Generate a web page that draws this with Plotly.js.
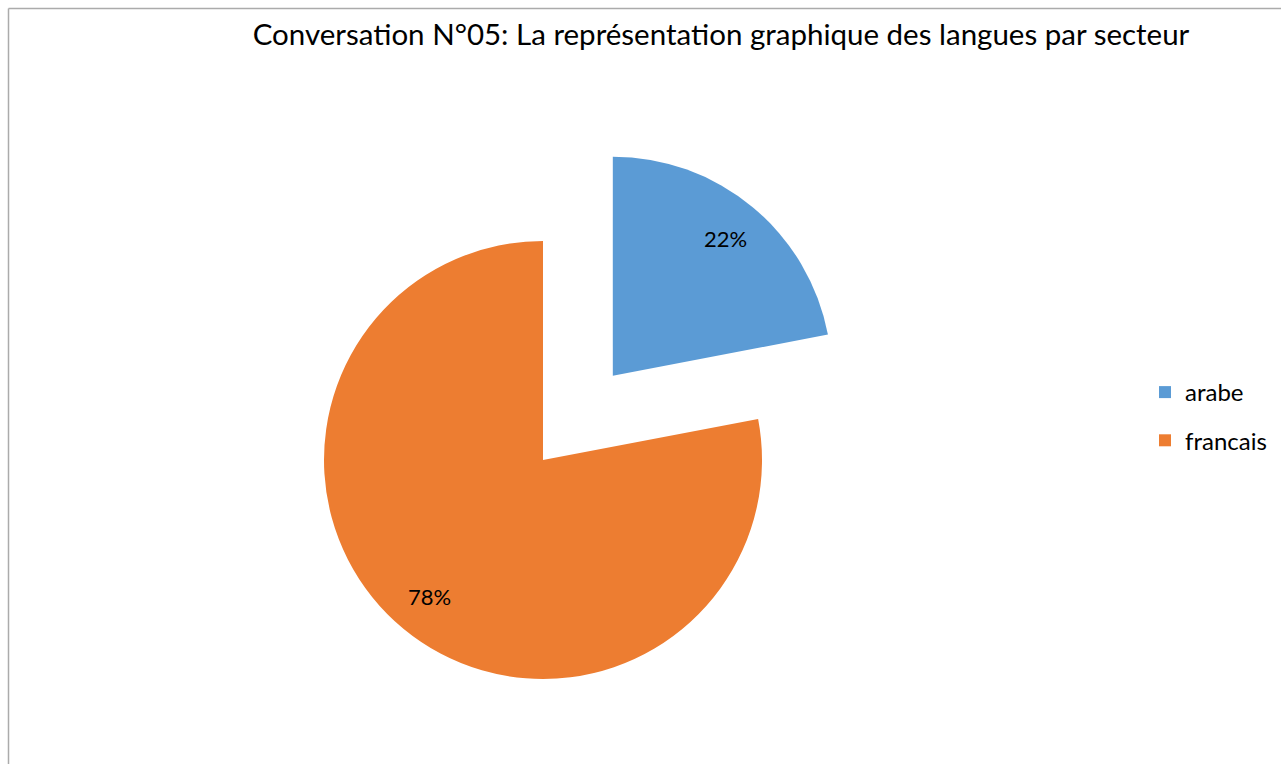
<!DOCTYPE html>
<html>
<head>
<meta charset="utf-8">
<script src="https://cdn.plot.ly/plotly-3.0.1.min.js"></script>
<style>
html,body{margin:0;padding:0;overflow:hidden;background:#fff;}
#chart{width:1281px;height:800px;}
</style>
</head>
<body>
<div id="chart"></div>
<script>
var labels = ['arabe', 'francais'];
var values = [22, 78];
var colors = ['#5B9BD5', '#ED7D31'];
var pulls = [0.5, 0];
var titleText = 'Conversation N°05: La représentation graphique des langues par secteur';

var W = 1281, H = 800;
var CX = 543, CY = 460, R = 219;
var FONT = 'Lato, "Open Sans", sans-serif';

var pie = {
  type: 'pie',
  labels: labels,
  values: values,
  sort: false,
  direction: 'clockwise',
  rotation: 0,
  pull: pulls,
  marker: {colors: colors, line: {width: 0}},
  textinfo: 'none',
  hoverinfo: 'label+percent',
  showlegend: false,
  domain: {x: [(CX - 1.5 * R) / W, (CX + 1.5 * R) / W], y: [(H - CY - 1.5 * R) / H, (H - CY + 1.5 * R) / H]}
};

// percent labels placed on each slice's bisector, computed from the values
var total = values.reduce(function (a, b) { return a + b; }, 0);
var cum = 0;
var annotations = values.map(function (v, i) {
  var mid = (cum + v / 2) / total * 2 * Math.PI;
  cum += v;
  var dx = Math.sin(mid), dy = -Math.cos(mid);
  var d = (pulls[i] + 0.81) * R;
  var px = CX + dx * d, py = CY + dy * d;
  return {
    xref: 'paper', yref: 'paper', x: px / W, y: 1 - py / H,
    xanchor: 'center', yanchor: 'middle', showarrow: false,
    text: Math.round(v / total * 100) + '%',
    font: {family: FONT, size: 22, color: '#000'}
  };
});

var legendTraces = labels.map(function (lab, i) {
  return {
    type: 'scatter', mode: 'markers', x: [null], y: [null],
    name: lab, legendgroup: lab,
    marker: {symbol: 'square', size: 12, color: colors[i]},
    hoverinfo: 'skip', showlegend: true
  };
});

var layout = {
  width: W, height: H,
  margin: {l: 0, r: 0, t: 0, b: 0},
  paper_bgcolor: '#fff', plot_bgcolor: '#fff',
  font: {family: FONT, color: '#000'},
  title: {
    text: titleText,
    font: {family: FONT, size: 29.5, color: '#000'},
    x: 721 / W, xanchor: 'center', xref: 'paper',
    y: 1 - 35 / H, yanchor: 'middle', yref: 'container'
  },
  xaxis: {visible: false}, yaxis: {visible: false},
  showlegend: true,
  annotations: annotations,
  legend: {
    x: 1145 / W, y: 1 - 370 / H, xanchor: 'left', yanchor: 'top',
    traceorder: 'grouped', tracegroupgap: 14,
    font: {family: FONT, size: 24, color: '#000'},
    bgcolor: 'rgba(0,0,0,0)', itemclick: false, itemdoubleclick: false
  },
  shapes: [
    {type: 'line', xref: 'paper', yref: 'paper', x0: 8.5 / W, x1: 1.02, y0: 1 - 8.5 / H, y1: 1 - 8.5 / H, line: {color: '#ABABAB', width: 1.5}},
    {type: 'line', xref: 'paper', yref: 'paper', x0: 8.5 / W, x1: 8.5 / W, y0: 1 - 8.5 / H, y1: -0.02, line: {color: '#ABABAB', width: 1.5}}
  ]
};

Plotly.newPlot('chart', legendTraces.concat([pie]), layout, {displayModeBar: false});
</script>
</body>
</html>
